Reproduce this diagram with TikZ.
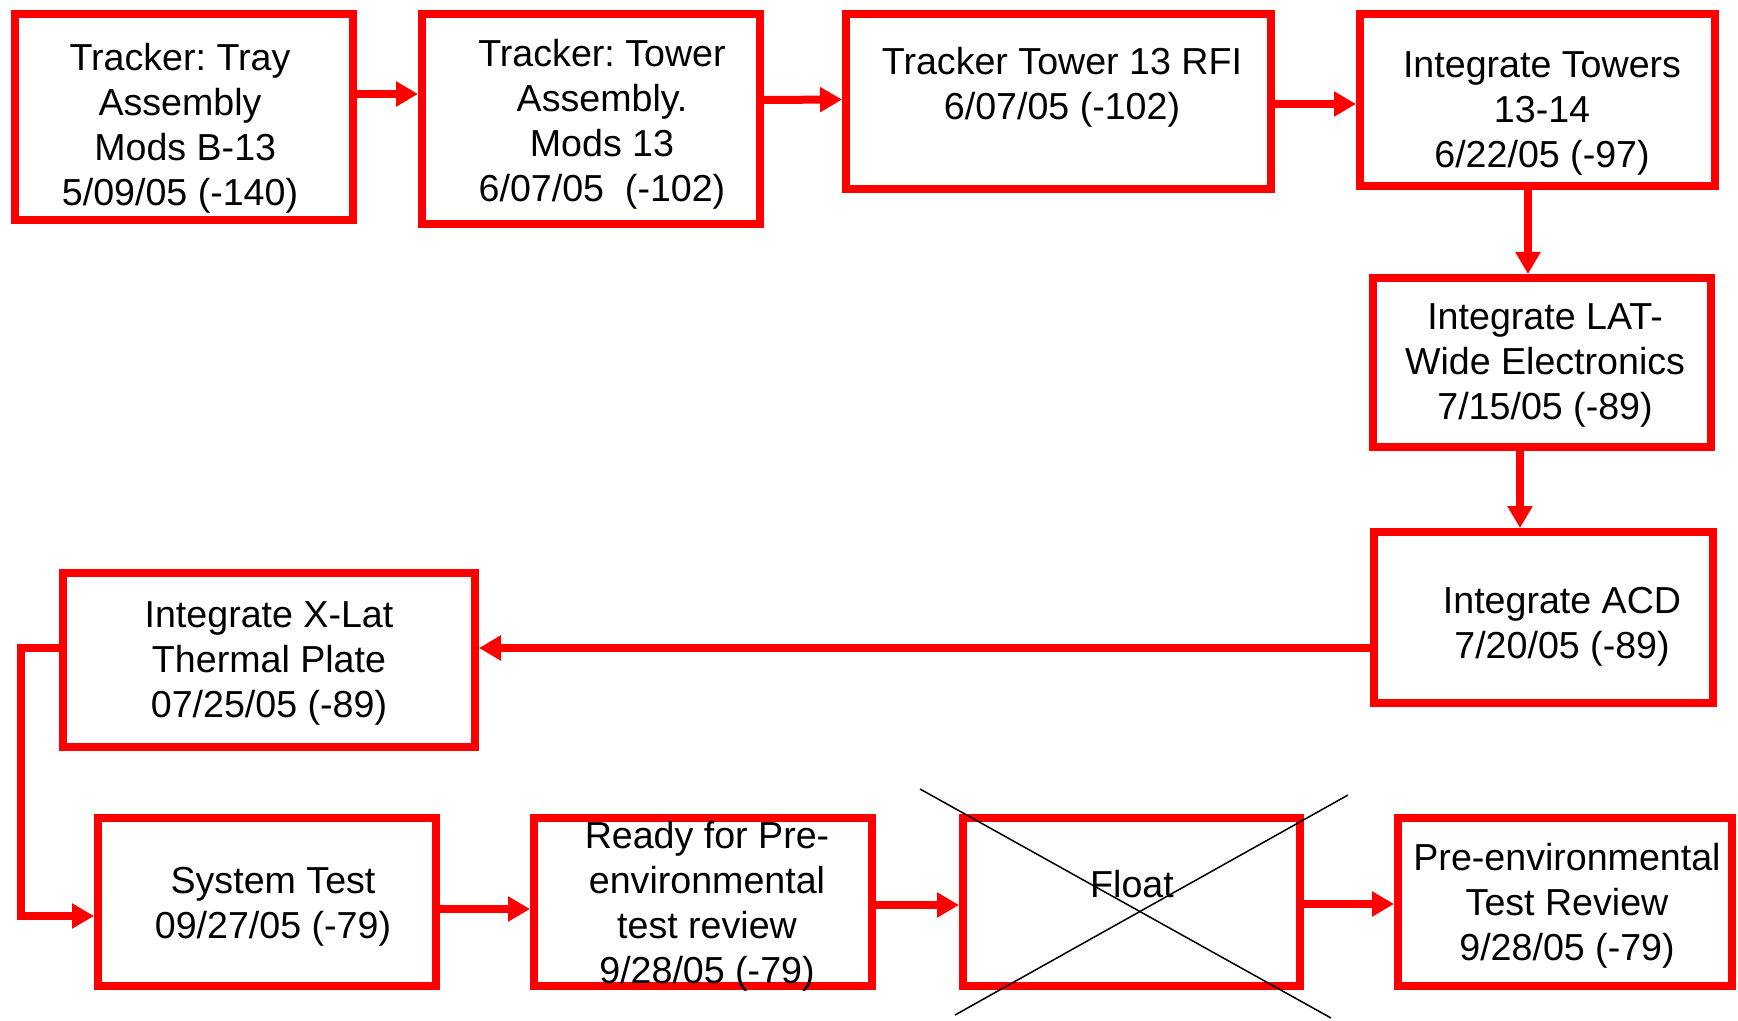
\documentclass[tikz,border=0pt]{standalone}
\usepackage{fontspec}
\setmainfont{Liberation Sans}
\frenchspacing
\usetikzlibrary{arrows.meta}
\begin{document}
\begin{tikzpicture}[x=0.5pt,y=-0.5pt,
  box/.style args={#1x#2}{draw=red,line width=4pt,minimum width=#1*0.5pt,minimum height=#2*0.5pt,inner sep=0pt},
  txt/.style={font=\fontsize{18.8}{22.5}\selectfont,align=center,inner sep=0pt,yshift=-1.5pt},
  flow/.style={red,line width=4pt,-{Triangle[length=11pt,width=12pt]}}]
\useasboundingbox (0,0) rectangle (1738,1021);
\node[box=338x206] (tray) at (184,117) {};
\node[box=338x210] (tower) at (591,119) {};
\node[box=425x175] (rfi) at (1058.5,101.5) {};
\node[box=355x172] (towers) at (1537.5,100) {};
\node[box=338x169] (lat) at (1542,362.5) {};
\node[box=339x171] (acd) at (1543.5,617.5) {};
\node[box=412x174] (xlat) at (269,660) {};
\node[box=338x168] (sys) at (267,902) {};
\node[box=338x168] (rdy) at (703,902) {};
\node[box=337x168] (flt) at (1131.5,902) {};
\node[box=334x168] (pre) at (1565,902) {};
\node[txt] (trayT) at (180,125) {Tracker: Tray\\Assembly\\\ Mods B-13\\5/09/05 (-140)};
\node[txt] (towerT) at (602,121) {Tracker: Tower\\Assembly.\\Mods 13\\6/07/05\ \ (-102)};
\node[txt] (rfiT) at (1062,84) {Tracker Tower 13 RFI\\6/07/05 (-102)};
\node[txt] (towersT) at (1542,110) {Integrate Towers\\13-14\\6/22/05 (-97)};
\node[txt] (latT) at (1545,362) {Integrate LAT-\\Wide Electronics\\7/15/05 (-89)};
\node[txt] (acdT) at (1562,624) {Integrate ACD\\7/20/05 (-89)};
\node[txt] (xlatT) at (269,660) {Integrate X-Lat\\Thermal Plate\\07/25/05 (-89)};
\node[txt] (sysT) at (273,904) {System Test\\09/27/05 (-79)};
\node[txt] (rdyT) at (707,903) {Ready for Pre-\\environmental\\test review\\9/28/05 (-79)};
\node[txt] (fltT) at (1132,881) {Float};
\node[txt] (preT) at (1567,903) {Pre-environmental\\Test Review\\9/28/05 (-79)};
\draw[flow] ([yshift=11.5pt]tray.east) -- ([yshift=12.5pt]tower.west);
\draw[flow] ([yshift=9.5pt]tower.east) -- ([yshift=1pt]rfi.west);
\draw[flow] ([yshift=-1.25pt]rfi.east) -- ([yshift=-2pt]towers.west);
\draw[flow] ([xshift=-4.75pt]towers.south) -- ([xshift=-7pt]lat.north);
\draw[flow] ([xshift=-11pt]lat.south) -- ([xshift=-11.75pt]acd.north);
\draw[flow] ([yshift=-15.25pt]acd.west) -- ([yshift=6pt]xlat.east);
\draw[flow] ([yshift=6pt]xlat.west) -- ++(-38,0) |- ([yshift=-7pt]sys.west);
\draw[flow] ([yshift=-3.5pt]sys.east) -- ([yshift=-3.5pt]rdy.west);
\draw[flow] ([yshift=-1.5pt]rdy.east) -- ([yshift=-1.5pt]flt.west);
\draw[flow] ([yshift=-1pt]flt.east) -- ([yshift=-1pt]pre.west);
\draw[black,line width=0.75pt] (920,789) -- (1331,1018);
\draw[black,line width=0.75pt] (1348,795) -- (955,1015);
\end{tikzpicture}
\end{document}
